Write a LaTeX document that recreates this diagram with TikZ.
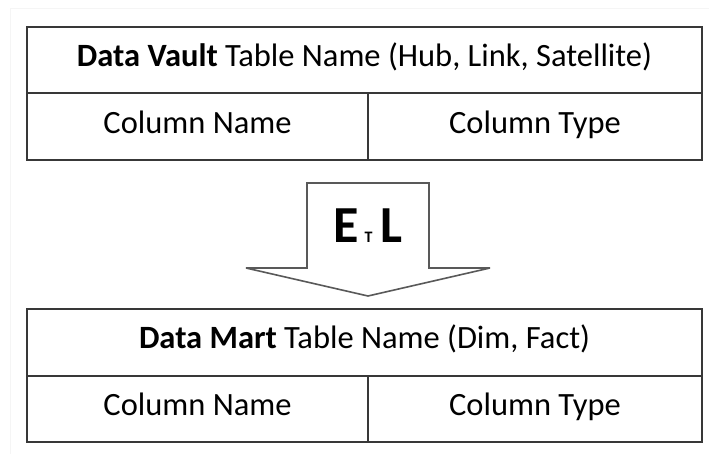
\documentclass[tikz,border=0pt]{standalone}
\usepackage{fontspec}
\setmainfont{Carlito}
\begin{document}
\begin{tikzpicture}[x=1pt,y=-1pt,
  rule/.style={draw=black!78,line width=2pt},
  cell/.style={rule,rectangle,inner sep=0pt,font=\fontsize{32.5}{36}\selectfont,text=black,
    text height=15pt,text depth=2pt},
  headcell/.style={cell,minimum width=675pt,minimum height=66.5pt},
  leftcell/.style={cell,minimum width=341pt,minimum height=66.5pt},
  rightcell/.style={cell,minimum width=334pt,minimum height=66.5pt},
  flow/.style={draw=black!65,line width=1.6pt,line join=miter,miter limit=3,fill=white}]
\useasboundingbox (0,0) rectangle (709,454);
\fill[white] (0,0) rectangle (709,454);
% faint page frame
\draw[black!4,line width=1pt] (10,454) -- (10,9) -- (709,9);

% Data Vault table
\node[headcell] (vhead) at (364.5,60.25) {\textbf{Data Vault} Table Name (Hub, Link, Satellite)};
\node[leftcell] (vname) at (197.5,126.75) {Column Name};
\node[rightcell] (vtype) at (535,126.75) {Column Type};

% ETL arrow
\draw[flow] (307,183) -- (429,183) -- (429,268) -- (490,268) -- (368,296)
  -- (246,268) -- (307,268) -- cycle;
\node[anchor=base,inner sep=0pt,font=\fontsize{52}{52}\selectfont\bfseries] (etl) at (368,243)
  {E\hspace{6pt}{\fontsize{16}{16}\selectfont T}\hspace{8pt}L};

% Data Mart table
\node[headcell] (mhead) at (364.5,342.25) {\textbf{Data Mart} Table Name (Dim, Fact)};
\node[leftcell] (mname) at (197.5,408.75) {Column Name};
\node[rightcell] (mtype) at (535,408.75) {Column Type};
\end{tikzpicture}
\end{document}
